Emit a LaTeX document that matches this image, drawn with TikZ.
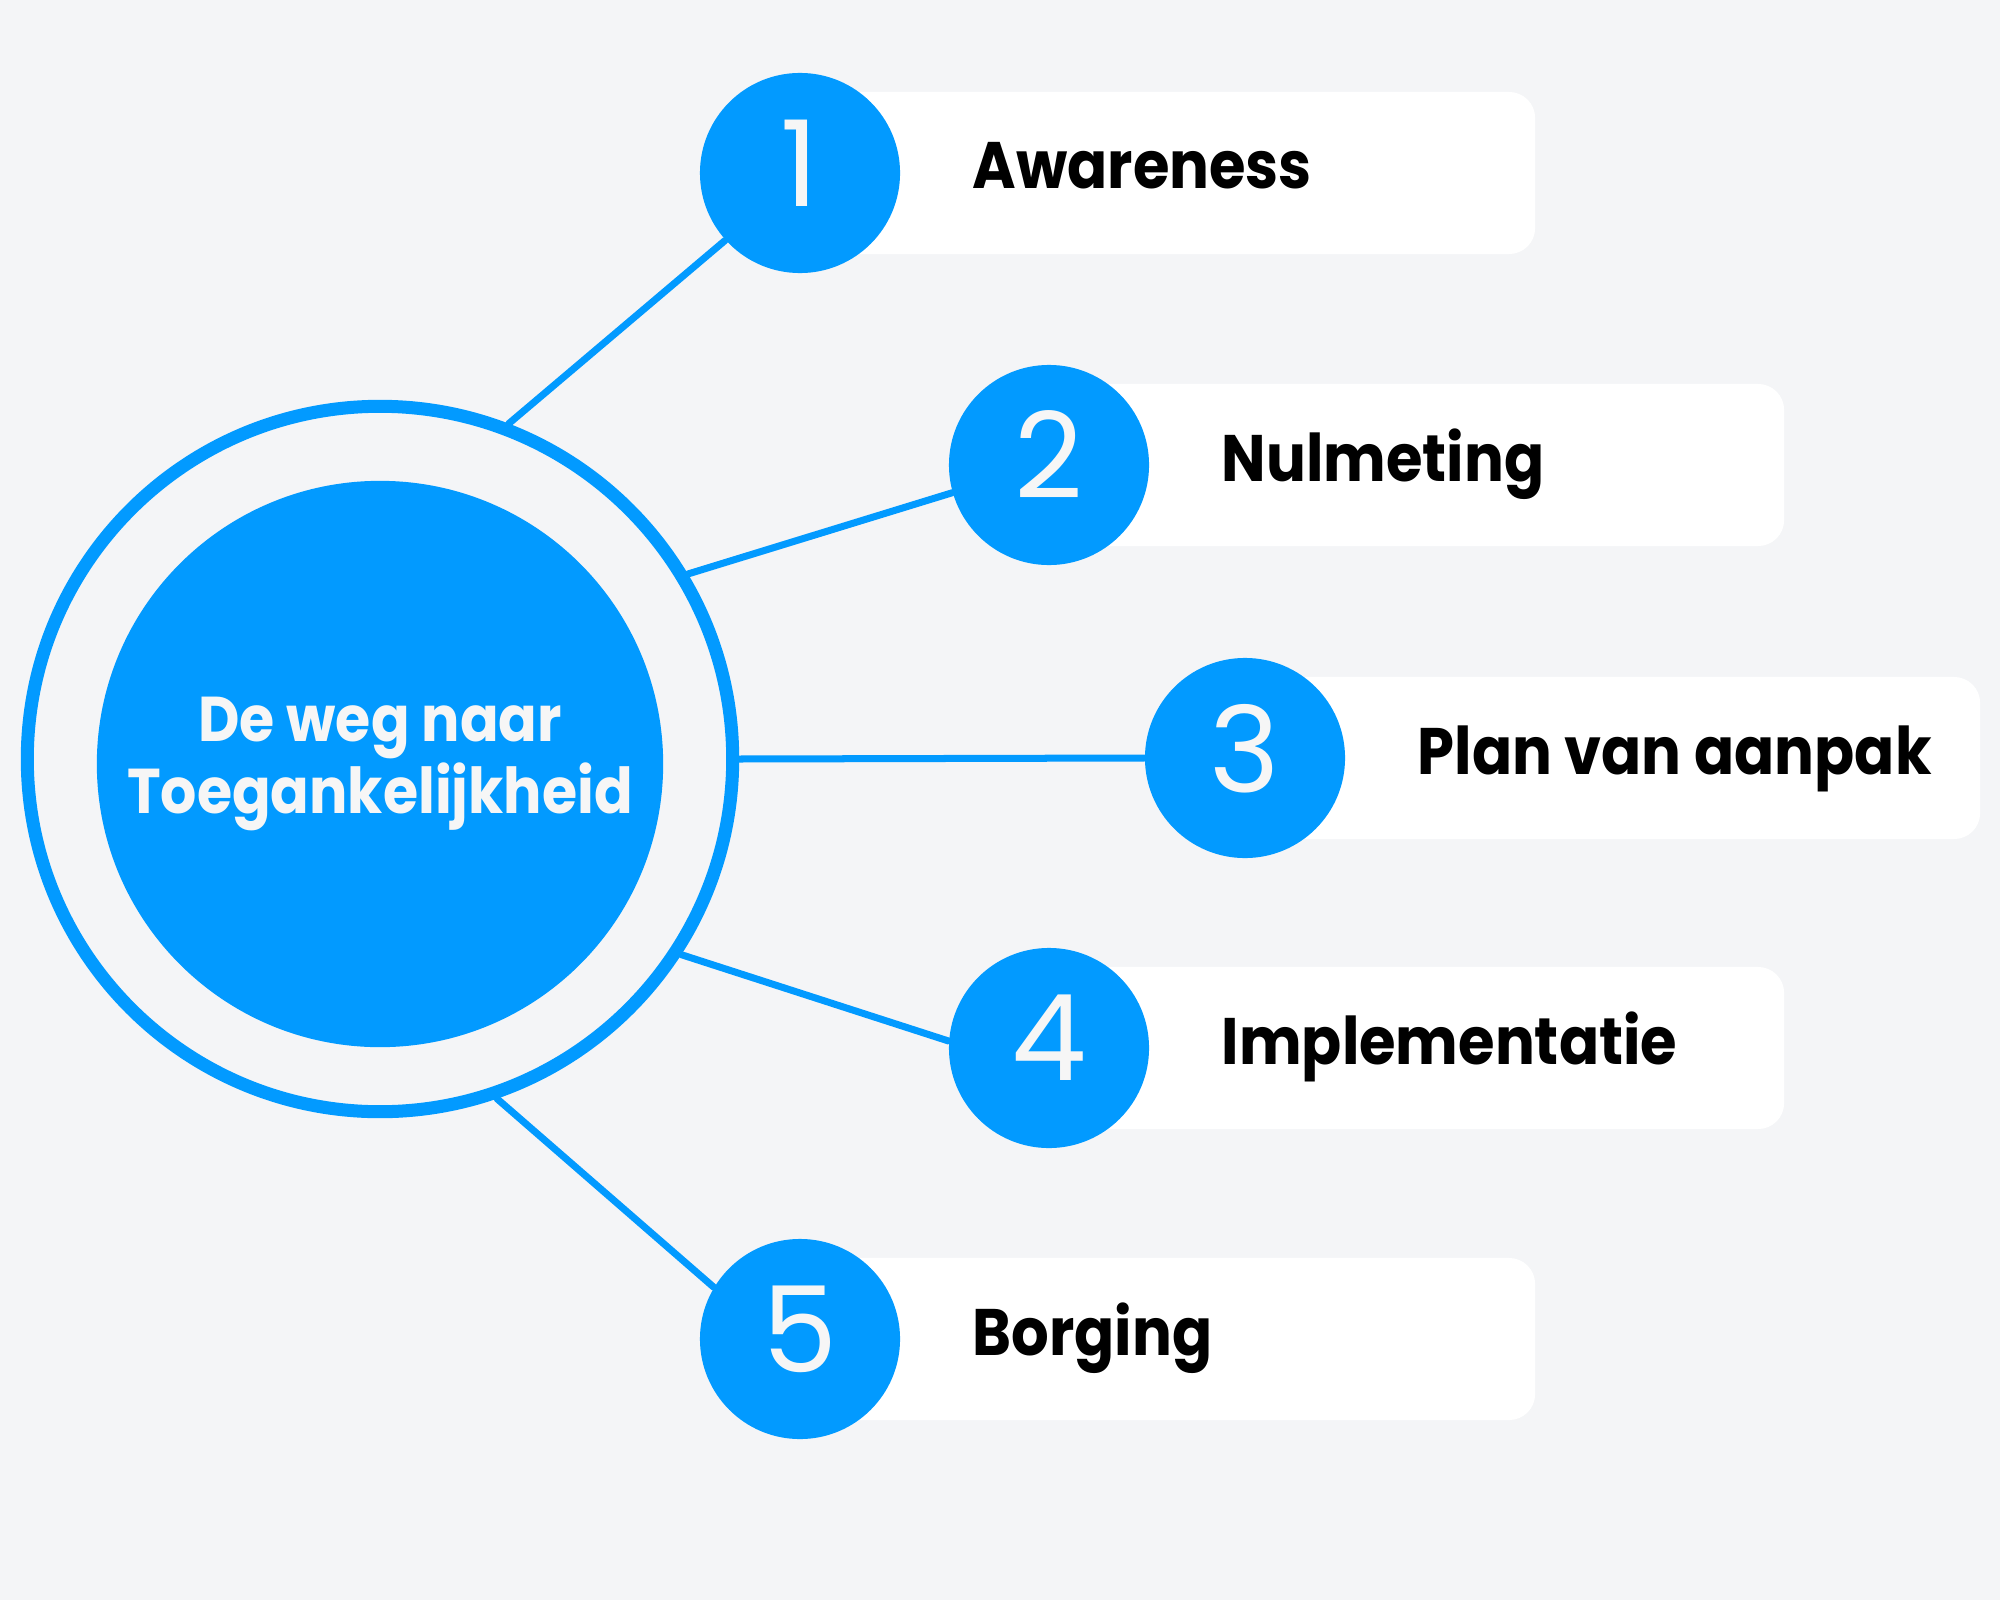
\documentclass[tikz,border=0pt]{standalone}
\usepackage{fontspec}
\setmainfont{Poppins}[FakeStretch=0.9]
\newfontfamily\numfont{Poppins}
\definecolor{stepblue}{HTML}{029AFF}
\definecolor{pagebg}{HTML}{F4F5F7}
\definecolor{offwhite}{HTML}{F6F6F6}
\tikzset{
	hub/.style={circle,fill=stepblue,inner sep=0pt,minimum size=5.66cm,text=offwhite,align=center,font=\bfseries\fontsize{18}{18.6}\selectfont},
	ring/.style={circle,draw=stepblue,line width=0.13cm,inner sep=0pt,minimum size=7.05cm},
	stepnum/.style={circle,fill=stepblue,inner sep=0pt,minimum size=2cm,text=offwhite,text depth=0.2cm,font=\numfont\fontsize{34}{34}\selectfont},
	stepbox/.style={rectangle,fill=white,rounded corners=0.26cm,minimum width=7.34cm,minimum height=1.62cm,anchor=west,inner sep=0pt},
	steptxt/.style={anchor=base west,inner sep=0pt,text=black,font=\bfseries\fontsize{18.7}{20}\selectfont},
	link/.style={draw=stepblue,line width=0.07cm,line cap=round},
}
\begin{document}
\begin{tikzpicture}[x=0.01cm,y=-0.01cm]
% SFONDO
\fill[pagebg] (0,0) rectangle (2000,1600);
% RIQUADRI
\node[stepbox] (b1) at (800,173) {};
\node[stepbox] (b2) at (1049,465) {};
\node[stepbox] (b3) at (1245,758) {};
\node[stepbox] (b4) at (1049,1048) {};
\node[stepbox] (b5) at (800,1339) {};
% CERCHIO CENTRALE
\node[ring] (ring) at (380,759) {};
\node[hub] (hub) at (380,764) {De weg naar\\Toegankelijkheid};
% CERCHI NUMERATI
\node[stepnum] (n1) at (800,173) {1};
\node[stepnum] (n2) at (1049,465) {2};
\node[stepnum] (n3) at (1245,758) {3};
\node[stepnum] (n4) at (1049,1048) {4};
\node[stepnum] (n5) at (800,1339) {5};
% TESTI
\node[steptxt] (t1) at (972,189) {Awareness};
\node[steptxt] (t2) at (1221,481) {Nulmeting};
\node[steptxt] (t3) at (1417,774) {Plan van aanpak};
\node[steptxt] (t4) at (1221,1064) {Implementatie};
\node[steptxt] (t5) at (972,1355) {Borging};
% LINEE
\draw[link] (ring.69) -- (n1.222);
\draw[link] (ring.31) -- (n2.196);
\draw[link] (ring.0) -- (n3.180);
\draw[link] (ring.-33) -- (n4.176);
\draw[link] (ring.-71) -- (n5.149);
\end{tikzpicture}
\end{document}
